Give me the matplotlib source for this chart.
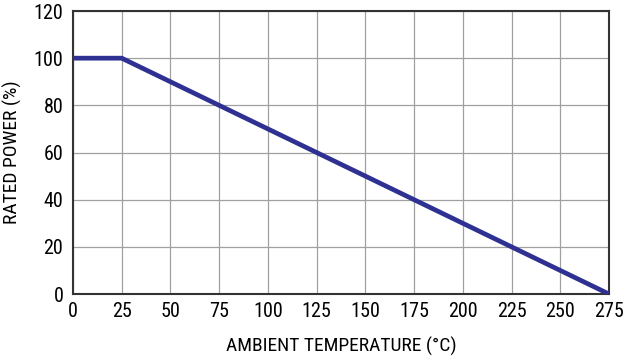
import matplotlib
matplotlib.use("Agg")
import matplotlib.pyplot as plt

# derating curve
temps = [0, 25, 275]
power = [100, 100, 0]
x_ticks = [0, 25, 50, 75, 100, 125, 150, 175, 200, 225, 250, 275]
y_ticks = [0, 20, 40, 60, 80, 100, 120]

plt.rcParams['font.family'] = ['Roboto Condensed', 'Archivo Narrow', 'DejaVu Sans']

fig = plt.figure(figsize=(6.28, 3.62), dpi=100)
ax = fig.add_axes([0.1162, 0.1878, 0.8535, 0.7818])

ax.plot(temps, power, color='#2e3192', linewidth=3.4, solid_capstyle='butt', zorder=3)

ax.set_xlim(0, 275)
ax.set_ylim(0, 120)
ax.set_xticks(x_ticks)
ax.set_yticks(y_ticks)
ax.grid(True, color='#a0a0a0', linewidth=0.9)
ax.tick_params(length=0, labelsize=14.5, colors='black')
ax.tick_params(axis='x', pad=6)
ax.tick_params(axis='y', pad=7)
for s in ax.spines.values():
    s.set_color('#333333')
    s.set_linewidth(1.5)

ax.set_xlabel('AMBIENT TEMPERATURE (°C)', fontsize=14, labelpad=11)
ax.set_ylabel('RATED POWER (%)', fontsize=14)
ax.yaxis.set_label_coords(-0.095, 0.5)

fig.savefig('out.png', dpi=100)
